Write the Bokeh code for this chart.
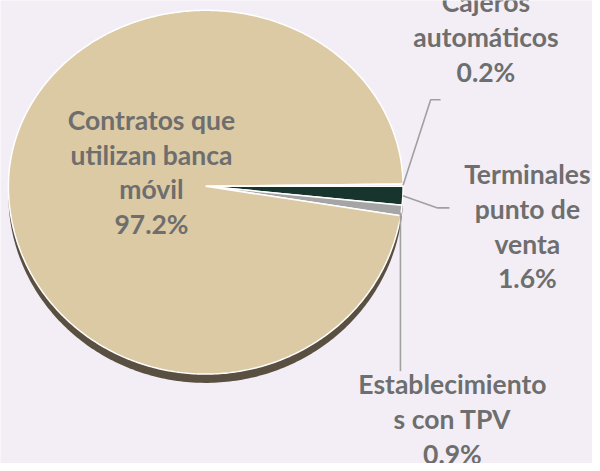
import numpy as np
from bokeh.plotting import figure
from bokeh.models import Range1d, ColumnDataSource
from bokeh.core.properties import value
from bokeh.embed import file_html
from bokeh.resources import INLINE

# ---- data (clockwise from 3 o'clock) ----
categories = ["Terminales punto de venta", "Establecimientos con TPV",
              "Contratos que utilizan banca móvil", "Cajeros automáticos"]
shares = [1.6, 0.9, 97.2, 0.2]
colors = ["#17352c", "#a5a5a5", "#dccaa5", "#e9dfc9"]
label_texts = ["Terminales\npunto de\nventa\n1.6%",
               "Establecimiento\ns con TPV\n0.9%",
               "Contratos que\nutilizan banca\nmóvil\n97.2%",
               "Cajeros\nautomáticos\n0.2%"]

# ---- layout (reference pixel coordinates) ----
CX, CY = 208.0, 189.0
RX, RY_UP, RY_DOWN = 200.0, 179.0, 191.0
DEPTH = 9.0
label_x = [534, 458, 153, 492]
label_y = [229.5, 426, 174.5, 37]

def ell(t, r=1.0, dy=0.0):
    s = np.sin(t)
    ry = np.where(s > 0, RY_DOWN, RY_UP)
    return CX + r * RX * np.cos(t), CY + r * ry * s + dy

p = figure(width=592, height=463, output_backend="svg", toolbar_location=None,
           x_range=Range1d(0, 600), y_range=Range1d(471, 0), min_border=0)
p.axis.visible = False
p.grid.visible = False
p.outline_line_color = None
p.background_fill_color = "#f3eef5"
p.border_fill_color = "#f3eef5"

# 3D side (depth)
tt = np.linspace(0, 2 * np.pi, 400)
sx, sy = ell(tt, dy=DEPTH)
p.patch(sx, sy, fill_color="#5a5042", line_color=None)

total = sum(shares)
fracs = np.array(shares) / total
starts = np.concatenate([[0], np.cumsum(fracs)[:-1]]) * 2 * np.pi
ends = np.cumsum(fracs) * 2 * np.pi
xs, ys = [], []
for a0, a1 in zip(starts, ends):
    t = np.linspace(a0, a1, max(3, int((a1 - a0) * 80)))
    ex, ey = ell(t)
    xs.append(np.concatenate([[CX], ex, [CX]]).tolist())
    ys.append(np.concatenate([[CY], ey, [CY]]).tolist())
src = ColumnDataSource(dict(xs=xs, ys=ys, color=colors, cat=categories))
p.patches("xs", "ys", source=src, fill_color="color", line_color="white", line_width=1.5)

# leader lines (from slice mid-angle edge)
mids = (starts + ends) / 2
mx, my = ell(mids)
lead = [
    ([mx[0], 443, 455], [my[0], 211, 211]),        # Terminales
    ([mx[1] - 1, mx[1] - 1], [my[1] + 2, 377]),     # Establecimientos
    None,
    ([mx[3], 436, 446], [my[3], 101, 101]),        # Cajeros
]
for l in lead:
    if l is not None:
        p.line(l[0], l[1], line_color="#a0a0a0", line_width=1.6)

lsrc = ColumnDataSource(dict(x=label_x, y=label_y, text=label_texts))
p.text("x", "y", text="text", source=lsrc, text_align="center", text_baseline="middle",
       text_font=value("Lato"), text_font_style="bold", text_font_size="26.5px",
       text_color="#6e6e6e", text_line_height=1.09)

open("out.html", "w").write(file_html(p, INLINE))
